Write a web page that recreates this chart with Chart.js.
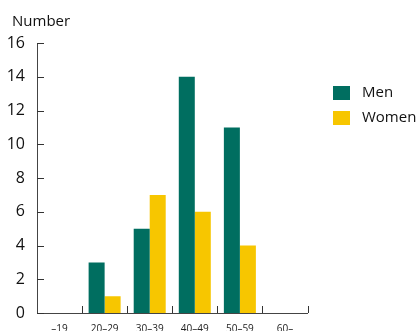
<!DOCTYPE html>
<html><head><meta charset="utf-8">
<script src="https://cdn.jsdelivr.net/npm/chart.js@4/dist/chart.umd.min.js"></script>
<style>html,body{margin:0;padding:0;background:#fff}#w{width:417px;height:331px}</style>
</head><body><div id="w"><canvas id="c"></canvas></div>
<script>
const categories = ["\u201319", "20\u201329", "30\u201339", "40\u201349", "50\u201359", "60\u2013"];
const men = [0, 3, 5, 14, 11, 0];
const women = [0, 1, 7, 6, 4, 0];
const yTicks = [0, 2, 4, 6, 8, 10, 12, 14, 16];
const seriesNames = ["Men", "Women"];
const colors = ["#006e60", "#f7c600"];
const FONT = "'Open Sans', sans-serif";

const extras = {
  id: 'extras',
  afterDraw(chart) {
    const ctx = chart.ctx, x = chart.scales.x, y = chart.scales.y;
    ctx.save();
    ctx.strokeStyle = '#333';
    ctx.lineWidth = 1;
    // y tick marks inside
    y.ticks.forEach(t => {
      const py = Math.round(y.getPixelForValue(t.value)) + 0.5;
      ctx.beginPath(); ctx.moveTo(x.left, py); ctx.lineTo(x.left + 7, py); ctx.stroke();
    });
    // x tick marks at category boundaries
    const n = categories.length, step = (x.right - x.left) / n;
    for (let i = 1; i <= n; i++) {
      const px = Math.round(x.left + i * step) + 0.5;
      ctx.beginPath(); ctx.moveTo(px, y.bottom); ctx.lineTo(px, y.bottom - 7); ctx.stroke();
    }
    // axis title
    ctx.fillStyle = '#111';
    ctx.font = "15px " + FONT;
    ctx.textAlign = 'left'; ctx.textBaseline = 'alphabetic';
    ctx.fillText("Number", 12, 26);
    // legend
    chart.data.datasets.forEach((ds, i) => {
      const top = 86 + i * 25;
      ctx.fillStyle = ds.backgroundColor;
      ctx.fillRect(333, top, 17, 14);
      ctx.fillStyle = '#111';
      ctx.font = "15px " + FONT;
      ctx.textBaseline = 'middle';
      ctx.fillText(ds.label, 362, top + 7);
    });
    ctx.restore();
  }
};

new Chart(document.getElementById('c'), {
  type: 'bar',
  data: {
    labels: categories,
    datasets: [
      { label: seriesNames[0], data: men, backgroundColor: colors[0] },
      { label: seriesNames[1], data: women, backgroundColor: colors[1] }
    ]
  },
  options: {
    responsive: true, maintainAspectRatio: false, animation: false,
    devicePixelRatio: 1,
    layout: { padding: { top: 43, right: 109.5, left: 0, bottom: 0 } },
    plugins: { legend: { display: false }, tooltip: { enabled: false } },
    datasets: { bar: { categoryPercentage: 0.71, barPercentage: 1 } },
    scales: {
      x: {
        grid: { display: false },
        border: { display: true, color: '#444', width: 1 },
        ticks: { font: { family: FONT, size: 10 }, color: '#222', padding: 2, maxRotation: 0 },
        afterFit(s) { s.height = 18; }
      },
      y: {
        min: 0, max: 16,
        grid: { display: false },
        border: { display: true, color: '#444', width: 1 },
        afterBuildTicks(s) { s.ticks = yTicks.map(v => ({ value: v })); },
        ticks: { font: { family: FONT, size: 16 }, color: '#111', padding: 4 },
        afterFit(s) { s.width = 37; }
      }
    }
  },
  plugins: [extras]
});
</script>
</body></html>
